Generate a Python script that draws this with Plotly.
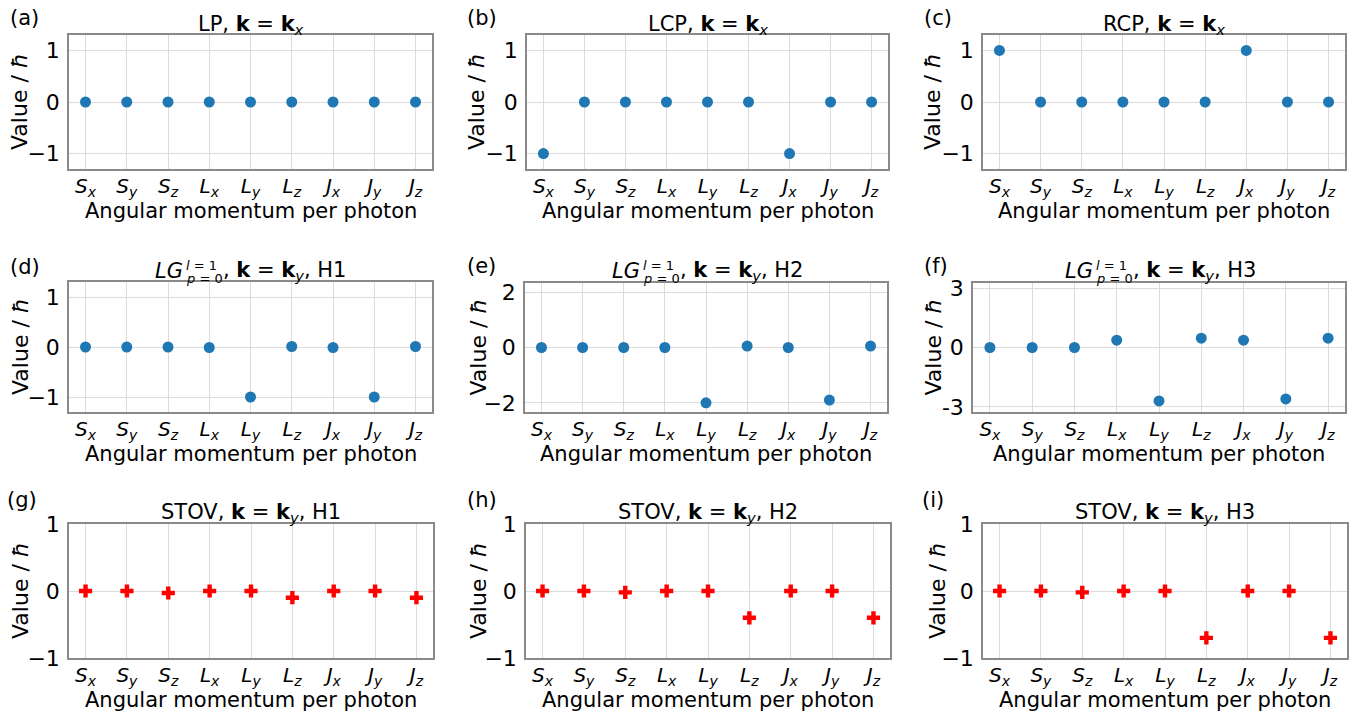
import plotly.graph_objects as go

W, H = 1355, 714

categories = ["Sx", "Sy", "Sz", "Lx", "Ly", "Lz", "Jx", "Jy", "Jz"]
tick_labels = ["<i>S</i><sub><i>x</i></sub>", "<i>S</i><sub><i>y</i></sub>", "<i>S</i><sub><i>z</i></sub>",
               "<i>L</i><sub><i>x</i></sub>", "<i>L</i><sub><i>y</i></sub>", "<i>L</i><sub><i>z</i></sub>",
               "<i>J</i><sub><i>x</i></sub>", "<i>J</i><sub><i>y</i></sub>", "<i>J</i><sub><i>z</i></sub>"]

vals_a = [0, 0, 0, 0, 0, 0, 0, 0, 0]
vals_b = [-1, 0, 0, 0, 0, 0, -1, 0, 0]
vals_c = [1, 0, 0, 0, 0, 0, 1, 0, 0]
vals_d = [0, 0, 0, -0.01, -1.0, 0.01, -0.01, -1.0, 0.01]
vals_e = [0, 0, 0, 0, -2.0, 0.05, 0, -1.9, 0.05]
vals_f = [0, 0, 0, 0.37, -2.7, 0.47, 0.37, -2.6, 0.47]
vals_g = [0, 0, -0.03, 0, 0, -0.1, 0, 0, -0.1]
vals_h = [0, 0, -0.02, 0, 0, -0.4, 0, 0, -0.4]
vals_i = [0, 0, -0.02, 0, 0, -0.7, 0, 0, -0.7]

KX = "<b>k</b> = <b>k</b><sub><i>x</i></sub>"
KY = "<b>k</b> = <b>k</b><sub><i>y</i></sub>"
titles = ["LP, " + KX, "LCP, " + KX, "RCP, " + KX,
          None, None, None,
          "STOV, " + KY + ", H1", "STOV, " + KY + ", H2", "STOV, " + KY + ", H3"]
lg_tails = {3: ", " + KY + ", H1", 4: ", " + KY + ", H2", 5: ", " + KY + ", H3"}
panel_labels = ["(a)", "(b)", "(c)", "(d)", "(e)", "(f)", "(g)", "(h)", "(i)"]
y_ranges = [[-1.3, 1.3]] * 4 + [[-2.33, 2.33], [-3.26, 3.26]] + [[-1, 1]] * 3
y_ticks = [[-1, 0, 1]] * 4 + [[-2, 0, 2], [-3, 0, 3]] + [[-1, 0, 1]] * 3
y_ticktext = [["−1", "0", "1"]] * 4 + [["−2", "0", "2"], ["-3", "0", "3"]] + [["−1", "0", "1"]] * 3
series = [vals_a, vals_b, vals_c, vals_d, vals_e, vals_f, vals_g, vals_h, vals_i]

# layout (pixels)
boxes = [(69, 432, 35, 169), (527, 888, 35, 169), (983, 1345, 35, 169),
         (69, 432, 282, 412), (525, 887, 283, 412), (973, 1345, 283, 412),
         (69, 433, 524, 658), (526, 890, 524, 658), (983, 1347, 524, 658)]
label_pos = [(8, 18), (465, 18), (922, 18), (8, 267), (465, 266), (922, 266),
             (5, 500), (465, 500), (920, 500)]
ylab_x = [20, 477, 933, 20, 478, 933, 20, 478, 937]
title_y = [25, 25, 25, 271, 271, 271, 513, 513, 513]
lg_split_x = {3: 185, 4: 642, 5: 1095}

FONT = "DejaVu Sans"
FS = 21
fig = go.Figure()
anns = []
layout = {}


def px(x):
    return x / W


def py(y):
    return 1 - y / H


def ann(text, x, y, xanchor="center", yanchor="middle", size=FS, angle=0):
    anns.append(dict(text=text, x=px(x), y=py(y), xref="paper", yref="paper",
                     xanchor=xanchor, yanchor=yanchor, showarrow=False, textangle=angle,
                     font=dict(family=FONT, size=size, color="black")))


for k in range(9):
    x0, x1, yt, yb = boxes[k]
    sfx = "" if k == 0 else str(k + 1)
    is_stov = k >= 6
    fig.add_trace(go.Scatter(
        x=categories, y=series[k], mode="markers",
        marker=dict(symbol="cross" if is_stov else "circle",
                    color="red" if is_stov else "#1f77b4",
                    size=11, line=dict(width=0)),
        xaxis="x" + sfx, yaxis="y" + sfx, showlegend=False, cliponaxis=False))
    layout["xaxis" + sfx] = dict(
        domain=[px(x0), px(x1)], anchor="y" + sfx, type="category", automargin=False,
        categoryorder="array", categoryarray=categories,
        tickvals=categories, ticktext=tick_labels, range=[-0.4, 8.4],
        showgrid=True, gridcolor="#dcdcdc", gridwidth=1,
        showline=True, mirror=True, linecolor="#8a8a8a", linewidth=1.5,
        ticks="", ticklen=0, ticklabelstandoff=-2,
        tickfont=dict(family=FONT, size=20, color="black"), zeroline=False)
    layout["yaxis" + sfx] = dict(
        domain=[py(yb), py(yt)], anchor="x" + sfx, automargin=False,
        range=y_ranges[k], tickvals=y_ticks[k], ticktext=y_ticktext[k],
        showgrid=True, gridcolor="#dcdcdc", gridwidth=1,
        showline=True, mirror=True, linecolor="#8a8a8a", linewidth=1.5,
        ticks="outside", ticklen=3, tickcolor="rgba(0,0,0,0)",
        tickfont=dict(family=FONT, size=22, color="black"), zeroline=False)
    cx = (x0 + x1) / 2
    if titles[k] is not None:
        ann(titles[k], cx, title_y[k])
    else:
        sx = lg_split_x[k]
        ann("<i>LG</i>", sx, title_y[k], xanchor="right")
        ann("<i>l</i> = 1", sx - 1, title_y[k] - 6, xanchor="left", size=13)
        ann("<i>p</i> = 0", sx - 1, title_y[k] + 8, xanchor="left", size=13)
        ann(lg_tails[k], sx + 36, title_y[k], xanchor="left")
    ann("Angular momentum per photon", cx, yb + 42)
    ann("Value / <i>ħ</i>", ylab_x[k], (yt + yb) / 2, angle=-90, size=22)
    lx, ly = label_pos[k]
    ann(panel_labels[k], lx, ly, xanchor="left")

fig.update_layout(width=W, height=H, margin=dict(l=0, r=0, t=0, b=0),
                  paper_bgcolor="white", plot_bgcolor="white",
                  annotations=anns, **layout)
fig.write_html("out.html")
